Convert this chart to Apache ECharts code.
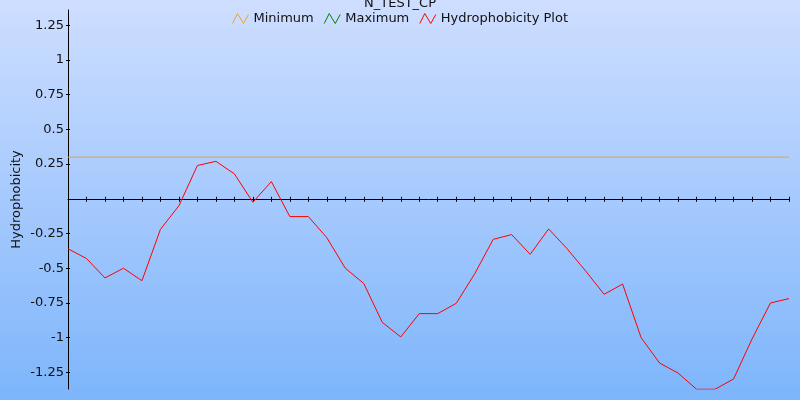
<!DOCTYPE html>
<html><head><meta charset="utf-8">
<script src="https://cdn.jsdelivr.net/npm/echarts@6/dist/echarts.min.js"></script>
<style>html,body{margin:0;padding:0;}#c{width:800px;height:400px;}</style>
</head><body><div id="c"></div>
<script>
const positions = [1,2,3,4,5,6,7,8,9,10,11,12,13,14,15,16,17,18,19,20,21,22,23,24,25,26,27,28,29,30,31,32,33,34,35,36,37,38,39,40];
const hydrophobicity = [-0.36,-0.43,-0.57,-0.50,-0.59,-0.22,-0.05,0.24,0.27,0.18,-0.025,0.124,-0.128,-0.128,-0.28,-0.50,-0.61,-0.89,-0.995,-0.827,-0.827,-0.753,-0.54,-0.292,-0.258,-0.40,-0.217,-0.36,-0.52,-0.688,-0.614,-1.0,-1.183,-1.255,-1.372,-1.372,-1.298,-1.01,-0.75,-0.719];
const minimum = [0.3,0.3,0.3,0.3,0.3,0.3,0.3,0.3,0.3,0.3,0.3,0.3,0.3,0.3,0.3,0.3,0.3,0.3,0.3,0.3,0.3,0.3,0.3,0.3,0.3,0.3,0.3,0.3,0.3,0.3,0.3,0.3,0.3,0.3,0.3,0.3,0.3,0.3,0.3,0.3];
const maximum = [];
const yTickValues = [-1.25,-1,-0.75,-0.5,-0.25,0.25,0.5,0.75,1,1.25];
const seriesNames = ['Minimum','Maximum','Hydrophobicity Plot'];
const seriesColors = ['#eea32a','#008000','#ff0000'];
const yMin = -1.37, yMax = 1.36;

const chart = echarts.init(document.getElementById('c'), null, {renderer:'canvas'});
const font = 'DejaVu Sans';
const zig = 'path://M0,10 L5,0 L11,10 L16,1';
const gridTop = 10, gridBottom = 11;
const gridH = 400 - gridTop - gridBottom;
const zeroOffset = -(gridH * (0 - yMin) / (yMax - yMin));
chart.setOption({
  animation: false,
  backgroundColor: {type:'linear', x:0, y:0, x2:0, y2:1, colorStops:[{offset:0,color:'#cedeff'},{offset:1,color:'#7db5fb'}]},
  title: {text:'N_TEST_CP', left:'center', top:-3, padding:0, textStyle:{fontFamily:font, fontSize:13, fontWeight:'normal', color:'#111'}},
  legend: {
    top:7, left:'center', itemWidth:16, itemHeight:10, itemGap:10,
    textStyle:{fontFamily:font, fontSize:13, color:'#111'},
    data: seriesNames.map((n,i)=>({name:n, icon:zig, itemStyle:{color:'transparent', borderColor:seriesColors[i], borderWidth:1}}))
  },
  grid: {left:68, right:11, top:gridTop, bottom:gridBottom, containLabel:false, outerBoundsMode:'none'},
  xAxis: [
    {type:'category', data:positions, boundaryGap:false, axisLine:{onZero:true, lineStyle:{color:'#000', width:1}}, axisTick:{show:true, interval:0, length:3, lineStyle:{color:'#000'}}, axisLabel:{show:false}, splitLine:{show:false}},
    {type:'category', data:positions, boundaryGap:false, position:'bottom', offset:zeroOffset, axisLine:{show:false, onZero:false}, axisTick:{show:true, inside:true, interval:0, length:2, lineStyle:{color:'#000'}}, axisLabel:{show:false}, splitLine:{show:false}}
  ],
  yAxis: [
    {
      type:'value', min:yMin, max:yMax,
      name:'Hydrophobicity', nameLocation:'middle', nameGap:45, nameRotate:90, nameMoveOverlap:false,
      nameTextStyle:{fontFamily:font, fontSize:13, color:'#111'},
      axisLine:{show:true, lineStyle:{color:'#000', width:1}},
      axisTick:{show:true, length:2, customValues:yTickValues, lineStyle:{color:'#000'}},
      axisLabel:{fontFamily:font, fontSize:13, color:'#111', margin:4, customValues:yTickValues},
      splitLine:{show:false}
    },
    {
      type:'value', min:yMin, max:yMax, position:'left', offset:0,
      axisLine:{show:false},
      axisTick:{show:true, inside:true, length:2, customValues:yTickValues, lineStyle:{color:'#000'}},
      axisLabel:{show:false},
      splitLine:{show:false}
    }
  ],
  series: [
    {name:seriesNames[0], type:'line', data:minimum, showSymbol:false, symbol:'none', lineStyle:{color:seriesColors[0], width:1}, itemStyle:{color:seriesColors[0]}},
    {name:seriesNames[1], type:'line', data:maximum, showSymbol:false, symbol:'none', lineStyle:{color:seriesColors[1], width:1}, itemStyle:{color:seriesColors[1]}},
    {name:seriesNames[2], type:'line', data:hydrophobicity, showSymbol:false, symbol:'none', lineStyle:{color:seriesColors[2], width:1}, itemStyle:{color:seriesColors[2]}}
  ]
});
</script>
</body></html>
